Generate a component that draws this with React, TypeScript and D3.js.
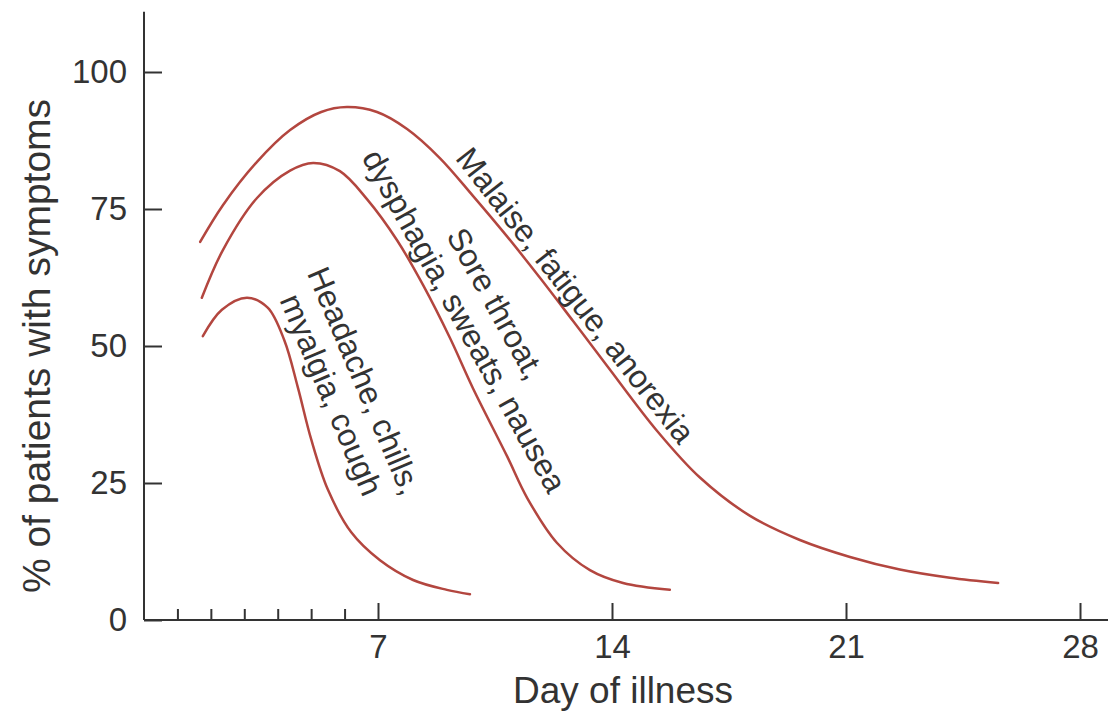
import { useEffect, useRef } from "react";
import * as d3 from "d3";

// curve samples (day of illness, % of patients)
const malaiseDays = [1.68, 2.36, 3.38, 4.37, 5.3, 6.07, 6.97, 7.87, 8.85, 9.84, 10.86, 11.85, 12.83, 13.85, 15.35, 16.63, 18.13, 19.62, 21.12, 22.61, 24.11, 25.55];
const malaiseValues = [69.0, 75.7, 83.6, 89.4, 92.7, 93.6, 92.7, 89.6, 84.3, 77.4, 70.0, 62.4, 54.6, 46.4, 34.5, 26.0, 19.0, 14.6, 11.5, 9.2, 7.7, 6.75];

const soreDays = [1.73, 2.36, 3.38, 4.37, 5.06, 5.86, 6.67, 7.57, 8.35, 9.15, 9.84, 10.86, 11.46, 12.35, 13.34, 14.33, 15.73];
const soreValues = [58.8, 67.5, 77.0, 82.0, 83.4, 81.9, 76.8, 69.3, 61.1, 51.5, 42.3, 29.9, 22.3, 14.1, 9.1, 6.75, 5.5];

const headacheDays = [1.76, 2.33, 3.08, 3.7, 4.2, 4.6, 5.0, 5.5, 6.2, 7.06, 8.05, 9.06, 9.75];
const headacheValues = [51.8, 56.6, 58.8, 57.0, 51.0, 42.5, 33.0, 23.8, 16.0, 10.9, 7.3, 5.5, 4.7];

const yTicks = [0, 25, 50, 75, 100];
const xMajorTicks = [7, 14, 21, 28];
const xMinorTicks = [1, 2, 3, 4, 5, 6];

// curve labels: text lines, anchor (day, %) of the last line's centre, rotation
const labelLines = [
  ["Malaise, fatigue, anorexia"],
  ["Sore throat,", "dysphagia, sweats, nausea"],
  ["Headache, chills,", "myalgia, cough"],
];
const labelDays = [12.65, 9.3, 5.3];
const labelValues = [58.0, 53.6, 40.3];
const labelAngles = [52, 61, 67];

const font = "'Liberation Sans', Arial, Helvetica, sans-serif";
const ink = "#333";
const curveColor = "#b3463f";

export default function App() {
  const ref = useRef<SVGSVGElement>(null);

  useEffect(() => {
    const svg = d3.select(ref.current);
    svg.selectAll("*").remove();

    const width = 1108;

    const x = d3.scaleLinear().domain([0, 28]).range([144, 1080]); // days
    const y = d3.scaleLinear().domain([0, 100]).range([620, 72]); // percent

    // axis lines (drawn by hand so they can run past the last tick)
    svg
      .append("line")
      .attr("x1", x(0))
      .attr("x2", width)
      .attr("y1", y(0))
      .attr("y2", y(0))
      .attr("stroke", ink)
      .attr("stroke-width", 2);
    svg
      .append("line")
      .attr("x1", x(0))
      .attr("x2", x(0))
      .attr("y1", y(0))
      .attr("y2", y(111))
      .attr("stroke", ink)
      .attr("stroke-width", 2);

    const styleAxis = (g: d3.Selection<SVGGElement, unknown, null, undefined>) => {
      g.select(".domain").remove();
      g.selectAll("line").attr("stroke", ink).attr("stroke-width", 2);
      g.selectAll("text").attr("fill", ink).style("font-family", font).style("font-size", "33px");
    };

    // y axis, ticks point inward
    svg
      .append("g")
      .attr("transform", `translate(${x(0)},0)`)
      .call(d3.axisLeft(y).tickValues(yTicks).tickSizeInner(-18).tickSizeOuter(0).tickPadding(17))
      .call(styleAxis);

    // x axis, major ticks
    svg
      .append("g")
      .attr("transform", `translate(0,${y(0)})`)
      .call(d3.axisBottom(x).tickValues(xMajorTicks).tickSizeInner(-17).tickSizeOuter(0).tickPadding(15))
      .call(styleAxis);

    // x axis, minor day ticks in the first week
    svg
      .append("g")
      .attr("transform", `translate(0,${y(0)})`)
      .call(
        d3
          .axisBottom(x)
          .tickValues(xMinorTicks)
          .tickSizeInner(-11)
          .tickSizeOuter(0)
          .tickFormat(() => "")
      )
      .call(styleAxis);

    // axis titles
    svg
      .append("text")
      .attr("x", 623)
      .attr("y", 703)
      .attr("text-anchor", "middle")
      .attr("fill", ink)
      .style("font-family", font)
      .style("font-size", "37px")
      .text("Day of illness");

    svg
      .append("text")
      .attr("transform", "translate(50,346) rotate(-90)")
      .attr("text-anchor", "middle")
      .attr("fill", ink)
      .style("font-family", font)
      .style("font-size", "39px")
      .text("% of patients with symptoms");

    // curves
    const line = d3
      .line<[number, number]>()
      .x((d) => x(d[0]))
      .y((d) => y(d[1]))
      .curve(d3.curveCatmullRom.alpha(0.5));

    const series: [number[], number[]][] = [
      [malaiseDays, malaiseValues],
      [soreDays, soreValues],
      [headacheDays, headacheValues],
    ];

    svg
      .append("g")
      .selectAll("path")
      .data(series)
      .join("path")
      .attr("d", ([days, values]) => line(days.map((d, i) => [d, values[i]] as [number, number])))
      .attr("fill", "none")
      .attr("stroke", curveColor)
      .attr("stroke-width", 2.5)
      .attr("stroke-linecap", "round");

    // rotated curve labels
    const labels = svg
      .append("g")
      .selectAll("g")
      .data(labelLines)
      .join("g")
      .attr("transform", (_, i) => `translate(${x(labelDays[i])},${y(labelValues[i])}) rotate(${labelAngles[i]})`);

    labels
      .selectAll("text")
      .data((lines) => lines.map((t, j) => ({ t, dy: (j - (lines.length - 1)) * 36 })))
      .join("text")
      .attr("y", (d) => d.dy)
      .attr("text-anchor", "middle")
      .attr("fill", ink)
      .style("font-family", font)
      .style("font-size", "32px")
      .text((d) => d.t);
  }, []);

  return (
    <svg
      ref={ref}
      width={1108}
      height={718}
      style={{ position: "absolute", left: 0, top: 0, background: "#fff" }}
    />
  );
}
